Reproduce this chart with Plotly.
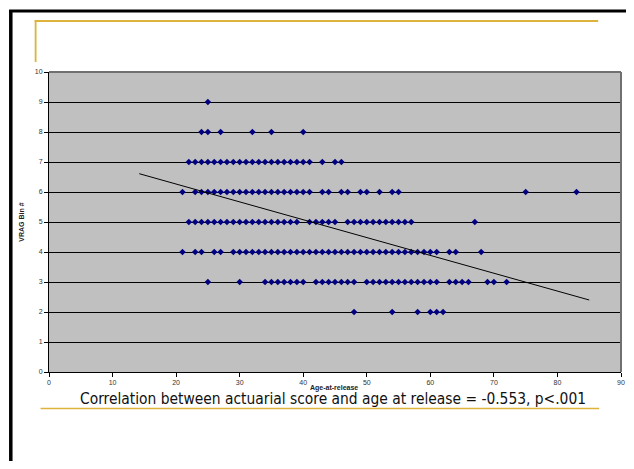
import plotly.graph_objects as go

# ---- data ----
bin_9 = [25]
bin_8 = [24, 25, 27, 32, 35, 40]
bin_7 = list(range(22, 42)) + [43, 45, 46]
bin_6 = [21, 23, 24, 25, 26, 27, 28, 29, 30, 31, 32, 33, 34, 35, 36, 37, 38, 39, 40, 41,
         43, 44, 46, 47, 49, 50, 52, 54, 55, 75, 83]
bin_5 = list(range(22, 40)) + [41, 42, 43, 44, 45] + list(range(47, 58)) + [67]
bin_4 = [21, 23, 24, 26, 27] + list(range(29, 62)) + [63, 64, 68]
bin_3 = [25, 30] + list(range(34, 41)) + list(range(42, 49)) + list(range(50, 62)) + \
        [63, 64, 65, 66, 69, 70, 72]
bin_2 = [48, 54, 58, 60, 61, 62]

bins = {9: bin_9, 8: bin_8, 7: bin_7, 6: bin_6, 5: bin_5, 4: bin_4, 3: bin_3, 2: bin_2}

trend_x = [14.2, 85.0]
trend_y = [6.61, 2.40]

x_ticks = [0, 10, 20, 30, 40, 50, 60, 70, 80, 90]
y_ticks = [0, 1, 2, 3, 4, 5, 6, 7, 8, 9, 10]

ages, scores = [], []
for score, agelist in bins.items():
    for a in agelist:
        ages.append(a)
        scores.append(score)

# page has an 8px body margin; figure coordinates = screen - 8
OFF = 8
W, H = 626, 453
L, R, T, B = 48.5 - OFF, 625 - OFF, 72 - OFF, 372 - OFF


def px(x):  # screen px -> paper
    return (x - OFF - L) / (R - L)


def py(y):
    return (B - (y - OFF)) / (B - T)


fig = go.Figure()
fig.add_trace(go.Scatter(
    x=ages, y=scores, mode="markers",
    marker=dict(symbol="diamond", size=5, color="#000080", line=dict(width=0)),
    showlegend=False, hoverinfo="x+y"))
fig.add_trace(go.Scatter(
    x=trend_x, y=trend_y, mode="lines",
    line=dict(color="black", width=1), showlegend=False))

gold = "#DDB33B"
shapes = [
    # slide border (black)
    dict(type="line", xref="paper", yref="paper", x0=px(10), x1=px(10), y0=py(10), y1=py(480),
         line=dict(color="black", width=3.5)),
    dict(type="line", xref="paper", yref="paper", x0=px(8.3), x1=px(640), y0=py(11), y1=py(11),
         line=dict(color="black", width=3)),
    # gold decorations
    dict(type="line", xref="paper", yref="paper", x0=px(34), x1=px(602), y0=py(21), y1=py(21),
         line=dict(color=gold, width=1.8)),
    dict(type="line", xref="paper", yref="paper", x0=px(35), x1=px(35), y0=py(20.5), y1=py(62),
         line=dict(color=gold, width=1.8)),
    dict(type="line", xref="paper", yref="paper", x0=px(40), x1=px(603), y0=py(408.5), y1=py(408.5),
         line=dict(color=gold, width=1.5)),
    # plot area border top/right (gray)
    dict(type="line", xref="paper", yref="paper", x0=0, x1=1, y0=1, y1=1,
         line=dict(color="#707070", width=2)),
    dict(type="line", xref="paper", yref="paper", x0=1, x1=1, y0=0, y1=1,
         line=dict(color="#707070", width=2)),
]

annotations = [
    dict(text="<b>Age-at-release</b>", xref="paper", yref="paper", x=px(336), y=py(387.5),
         showarrow=False, font=dict(family="Liberation Sans, Arial", size=7, color="#222"),
         xanchor="center", yanchor="middle"),
    dict(text="<b>VRAG Bin #</b>", xref="paper", yref="paper", x=px(20), y=py(222),
         showarrow=False, textangle=-90,
         font=dict(family="Liberation Sans, Arial", size=7, color="#222"),
         xanchor="center", yanchor="middle"),
    dict(text="Correlation between actuarial score and age at release = -0.553, p<.001",
         xref="paper", yref="paper", x=px(335), y=py(399), showarrow=False,
         font=dict(family="Liberation Sans Narrow, Arial Narrow, DejaVu Sans Condensed", size=15.4,
                   color="#111"),
         xanchor="center", yanchor="middle"),
]

fig.update_layout(
    width=W, height=H,
    margin=dict(l=L, r=W - R, t=T, b=H - B, pad=0),
    paper_bgcolor="white", plot_bgcolor="#C0C0C0",
    shapes=shapes, annotations=annotations,
    xaxis=dict(range=[0, 90], tickvals=x_ticks, ticktext=[str(v) for v in x_ticks],
               showgrid=False, zeroline=False, showline=True, linecolor="black", linewidth=1,
               ticks="outside", ticklen=4, tickcolor="black", tickwidth=1,
               tickfont=dict(family="Liberation Sans, Arial", size=7, color="#333")),
    yaxis=dict(range=[0, 10], tickvals=y_ticks, ticktext=[str(v) for v in y_ticks],
               showgrid=True, gridcolor="black", gridwidth=1, zeroline=False,
               showline=True, linecolor="black", linewidth=1,
               ticks="outside", ticklen=4, tickcolor="black", tickwidth=1,
               tickfont=dict(family="Liberation Sans, Arial", size=7, color="#333")),
)

fig.write_html("out.html")
